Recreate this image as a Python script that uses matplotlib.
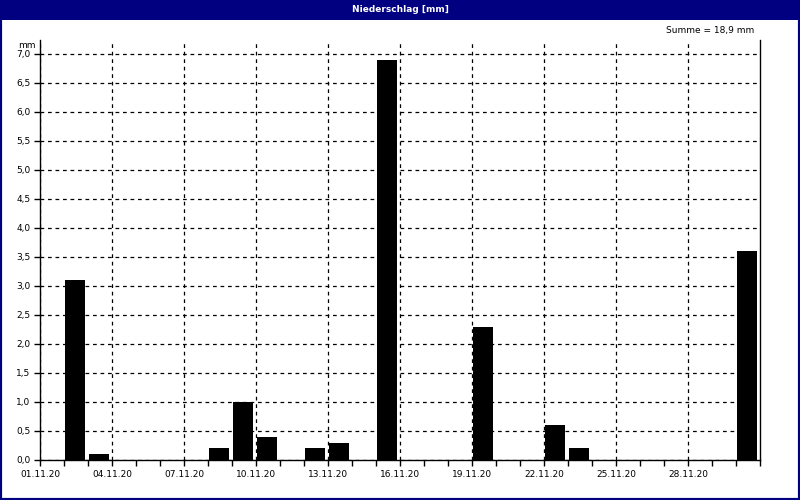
import matplotlib
matplotlib.use("Agg")
import matplotlib.pyplot as plt
from matplotlib.patches import Rectangle
import numpy as np

# Tageswerte November 2020 (Index 0 = 01.11.20)
tage = ['%02d.11.20' % d for d in range(1, 31)]
niederschlag = [0.0, 3.1, 0.1, 0.0, 0.0, 0.0, 0.0, 0.2, 1.0, 0.4,
                0.0, 0.2, 0.3, 0.0, 6.9, 0.0, 0.0, 0.0, 2.3, 0.0,
                0.0, 0.6, 0.2, 0.0, 0.0, 0.0, 0.0, 0.0, 0.0, 3.6]
y_ticks = np.arange(0, 7.01, 0.5)

navy = '#000080'
fs = 6.5

fig = plt.figure(figsize=(8, 5), dpi=100)
fig.patch.set_facecolor('white')

# Titelleiste und Rahmen
fig.patches.append(Rectangle((0, 480 / 500), 1, 20 / 500, transform=fig.transFigure,
                             facecolor=navy, edgecolor='none', zorder=0))
fig.patches.append(Rectangle((0, 0), 1, 1, transform=fig.transFigure,
                             facecolor='none', edgecolor=navy, linewidth=3, zorder=5))
fig.text(0.5, 490 / 500, 'Niederschlag [mm]', color='white', fontsize=fs,
         fontweight='bold', ha='center', va='center')

ax = fig.add_axes([40 / 800, 40 / 500, 720 / 800, 420 / 500])
x = np.arange(len(niederschlag))
ax.bar(x + 0.04, niederschlag, width=0.84, align='edge', color='black', zorder=3)

ax.set_xlim(0, 30)
ax.set_ylim(0, 7.24)

major = x[::3]
ax.set_xticks(major)
ax.set_xticklabels([tage[i] for i in major], fontsize=fs)
ax.set_xticks(np.arange(0, 31), minor=True)
ax.set_yticks(y_ticks)
ax.set_yticklabels([('%.1f' % v).replace('.', ',') for v in y_ticks], fontsize=fs)
ax.tick_params(axis='both', which='both', direction='out', length=4, width=1, pad=3)

ax.grid(True, which='major', color='black', linestyle=(0, (3, 3)), linewidth=0.9, zorder=1)
ax.set_axisbelow(True)
ax.spines['top'].set_visible(False)
for s in ['left', 'right', 'bottom']:
    ax.spines[s].set_linewidth(1)

fig.text(36 / 800, 1 - 45 / 500, 'mm', fontsize=fs, ha='right', va='center')
fig.text(754 / 800, 1 - 31 / 500, 'Summe = 18,9 mm', fontsize=fs, ha='right', va='center')

plt.savefig('out.png', dpi=100)
